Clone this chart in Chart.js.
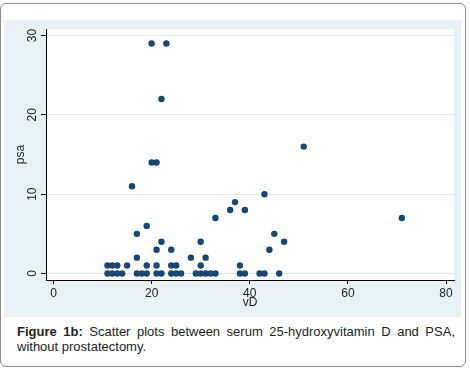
<!DOCTYPE html>
<html>
<head>
<meta charset="utf-8">
<script src="https://cdn.jsdelivr.net/npm/chart.js@4/dist/chart.umd.min.js"></script>
<style>
  body { margin: 0; background: #fff; font-family: "Liberation Sans", Arial, sans-serif; }
  #frame { position: absolute; left: 0; top: 3px; width: 464px; height: 362px; border: 1px solid #8c8c8c; border-radius: 6px; }
  #panel { position: absolute; left: 4px; top: 20px; width: 457px; height: 297px; background: #e8f1f3; }
  #caption { position: absolute; left: 17px; top: 324px; width: 438px; font-size: 13px; line-height: 15px; color: #231f20; text-align: justify; }
</style>
</head>
<body>
<div id="frame"></div>
<div id="panel"><canvas id="myChart" width="457" height="297"></canvas></div>
<div id="caption"><b>Figure 1b:</b> Scatter plots between serum 25-hydroxyvitamin D and PSA, without prostatectomy.</div>
<script>
// serum 25-hydroxyvitamin D (x) and PSA (y)
const vD = [
  11, 12, 13, 15, 19, 21, 24, 25, 30, 38,
  11, 12, 13, 14, 17, 18, 19, 21, 22, 24, 25, 26, 29, 30, 31, 32, 33, 38, 39, 42, 43, 46,
  17, 28, 31,
  21, 24, 44,
  22, 30, 47,
  17, 45,
  19,
  33, 71,
  36, 39,
  37,
  43,
  16,
  20, 21,
  51,
  22,
  20, 23
];
const psa = [
  1, 1, 1, 1, 1, 1, 1, 1, 1, 1,
  0, 0, 0, 0, 0, 0, 0, 0, 0, 0, 0, 0, 0, 0, 0, 0, 0, 0, 0, 0, 0, 0,
  2, 2, 2,
  3, 3, 3,
  4, 4, 4,
  5, 5,
  6,
  7, 7,
  8, 8,
  9,
  10,
  11,
  14, 14,
  16,
  22,
  29, 29
];
const xTicks = [0, 20, 40, 60, 80];
const yTicks = [0, 10, 20, 30];

const fontFamily = '"Liberation Sans", Arial, sans-serif';

const plotBg = {
  id: 'plotBg',
  beforeDraw(chart) {
    const { ctx, chartArea: a } = chart;
    ctx.save();
    ctx.fillStyle = '#ffffff';
    ctx.fillRect(a.left, a.top, a.right - a.left, a.bottom - a.top);
    ctx.restore();
  }
};

let points = vD.map((x, i) => ({ x: x, y: psa[i] }));

new Chart(document.getElementById('myChart'), {
  type: 'scatter',
  data: {
    datasets: [{
      data: points,
      backgroundColor: '#1a476f',
      borderWidth: 0,
      pointRadius: 3.2,
      pointHoverRadius: 3.2
    }]
  },
  options: {
    responsive: false,
    animation: false,
    layout: { padding: { top: 9, right: 7, left: 0, bottom: 0 } },
    plugins: { legend: { display: false }, tooltip: { enabled: false } },
    scales: {
      x: {
        type: 'linear',
        min: -1.53,
        max: 81.63,
        afterBuildTicks: s => { s.ticks = xTicks.map(v => ({ value: v })); },
        afterFit: s => { s.height = 37; },
        grid: { drawOnChartArea: false, tickLength: 4, tickColor: '#000' },
        border: { color: '#000', width: 1 },
        ticks: { color: '#222', padding: 2, maxRotation: 0, font: { family: fontFamily, size: 12 } },
        title: { display: true, text: 'vD', color: '#222', font: { family: fontFamily, size: 12 }, padding: { top: 0, bottom: 7 } }
      },
      y: {
        min: -0.82,
        max: 30.8,
        afterBuildTicks: s => { s.ticks = yTicks.map(v => ({ value: v })); },
        afterFit: s => { s.width = 42; },
        grid: { color: '#e0ebef', lineWidth: 1, tickLength: 5, tickColor: '#000' },
        border: { color: '#000', width: 1 },
        ticks: { color: '#222', padding: 2, minRotation: 90, maxRotation: 90, crossAlign: 'center', font: { family: fontFamily, size: 12 } },
        title: { display: true, text: 'psa', color: '#222', font: { family: fontFamily, size: 12 }, padding: { top: 9, bottom: 0 } }
      }
    }
  },
  plugins: [plotBg]
});
</script>
</body>
</html>
